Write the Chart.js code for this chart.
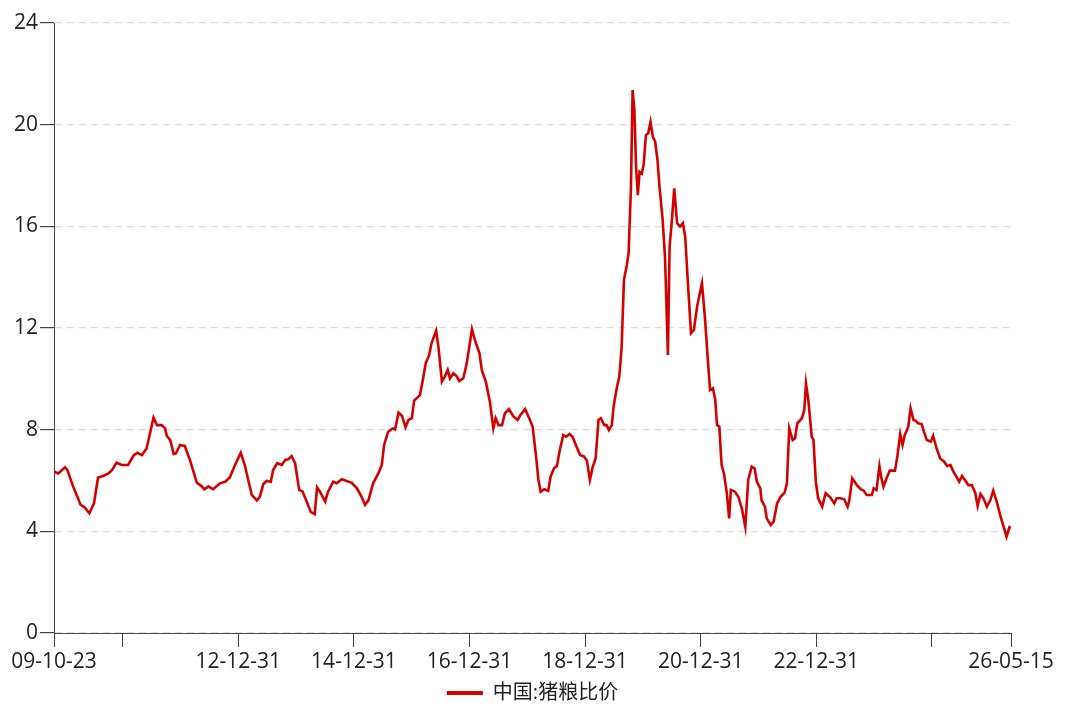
<!DOCTYPE html>
<html>
<head>
<meta charset="utf-8">
<script src="https://cdn.jsdelivr.net/npm/chart.js@4.4.1/dist/chart.umd.min.js"></script>
<style>
  html, body { margin: 0; padding: 0; background: #fff; }
</style>
</head>
<body>
<canvas id="chart" width="1071" height="710"></canvas>
<script>
// positions on the time axis, as decimal years
const years = [
  2009.81, 2009.88, 2010.00, 2010.04, 2010.14, 2010.27, 2010.34, 2010.42, 2010.50, 2010.57,
  2010.66, 2010.75, 2010.81, 2010.89, 2010.98, 2011.09, 2011.19, 2011.25, 2011.33, 2011.41,
  2011.47, 2011.53, 2011.59, 2011.67, 2011.73, 2011.76, 2011.82, 2011.88, 2011.92, 2011.99,
  2012.07, 2012.16, 2012.28, 2012.36, 2012.41, 2012.48, 2012.56, 2012.68, 2012.77, 2012.85,
  2012.94, 2013.04, 2013.11, 2013.23, 2013.32, 2013.37, 2013.43, 2013.49, 2013.56, 2013.60,
  2013.67, 2013.75, 2013.81, 2013.86, 2013.92, 2013.98, 2014.05, 2014.11, 2014.18, 2014.25,
  2014.32, 2014.36, 2014.41, 2014.50, 2014.55, 2014.64, 2014.70, 2014.79, 2014.87, 2014.96,
  2015.05, 2015.13, 2015.19, 2015.25, 2015.33, 2015.42, 2015.48, 2015.52, 2015.59, 2015.67,
  2015.71, 2015.77, 2015.83, 2015.89, 2015.94, 2016.00, 2016.04, 2016.08, 2016.14, 2016.19,
  2016.24, 2016.30, 2016.34, 2016.42, 2016.46, 2016.52, 2016.57, 2016.62, 2016.66, 2016.72,
  2016.78, 2016.82, 2016.89, 2016.95, 2017.04, 2017.09, 2017.17, 2017.21, 2017.28, 2017.35,
  2017.41, 2017.45, 2017.50, 2017.56, 2017.61, 2017.68, 2017.76, 2017.83, 2017.88, 2017.96,
  2018.02, 2018.09, 2018.15, 2018.19, 2018.23, 2018.29, 2018.36, 2018.40, 2018.46, 2018.51,
  2018.56, 2018.62, 2018.67, 2018.73, 2018.78, 2018.85, 2018.91, 2018.98, 2019.03, 2019.08,
  2019.13, 2019.18, 2019.23, 2019.27, 2019.33, 2019.37, 2019.41, 2019.46, 2019.49, 2019.55,
  2019.59, 2019.63, 2019.67, 2019.72, 2019.75, 2019.79, 2019.82, 2019.85, 2019.88, 2019.91,
  2019.94, 2019.98, 2020.01, 2020.05, 2020.09, 2020.13, 2020.17, 2020.21, 2020.25, 2020.29,
  2020.34, 2020.38, 2020.40, 2020.43, 2020.46, 2020.50, 2020.54, 2020.59, 2020.64, 2020.69,
  2020.73, 2020.77, 2020.83, 2020.88, 2020.94, 2021.02, 2021.07, 2021.13, 2021.16, 2021.21,
  2021.25, 2021.28, 2021.32, 2021.36, 2021.40, 2021.45, 2021.49, 2021.52, 2021.59, 2021.65,
  2021.71, 2021.77, 2021.82, 2021.88, 2021.93, 2021.97, 2022.03, 2022.05, 2022.11, 2022.14,
  2022.21, 2022.26, 2022.32, 2022.38, 2022.45, 2022.49, 2022.53, 2022.59, 2022.63, 2022.67,
  2022.75, 2022.79, 2022.82, 2022.86, 2022.92, 2022.95, 2022.99, 2023.03, 2023.10, 2023.16,
  2023.24, 2023.31, 2023.35, 2023.41, 2023.48, 2023.54, 2023.57, 2023.62, 2023.70, 2023.77,
  2023.82, 2023.87, 2023.96, 2023.99, 2024.04, 2024.09, 2024.12, 2024.16, 2024.22, 2024.27,
  2024.36, 2024.40, 2024.45, 2024.49, 2024.53, 2024.59, 2024.63, 2024.68, 2024.72, 2024.76,
  2024.82, 2024.86, 2024.91, 2024.98, 2025.02, 2025.08, 2025.14, 2025.21, 2025.26, 2025.32,
  2025.37, 2025.43, 2025.47, 2025.52, 2025.57, 2025.63, 2025.69, 2025.75, 2025.79, 2025.84,
  2025.89, 2025.95, 2026.01, 2026.06, 2026.12, 2026.18, 2026.24, 2026.29, 2026.34, 2026.367
];

// 中国:猪粮比价
const ratio = [
  6.35, 6.28, 6.52, 6.41, 5.76, 5.04, 4.94, 4.71, 5.10, 6.12,
  6.18, 6.28, 6.41, 6.70, 6.61, 6.61, 7.00, 7.09, 7.00, 7.26,
  7.86, 8.48, 8.18, 8.18, 8.05, 7.75, 7.59, 7.04, 7.07, 7.40,
  7.36, 6.81, 5.91, 5.78, 5.65, 5.76, 5.66, 5.89, 5.95, 6.12,
  6.61, 7.09, 6.60, 5.43, 5.21, 5.36, 5.86, 5.98, 5.95, 6.41,
  6.68, 6.61, 6.81, 6.83, 6.96, 6.68, 5.63, 5.56, 5.17, 4.77,
  4.68, 5.73, 5.56, 5.17, 5.56, 5.95, 5.89, 6.05, 5.98, 5.91,
  5.69, 5.36, 5.04, 5.23, 5.89, 6.28, 6.61, 7.40, 7.92, 8.05,
  8.01, 8.67, 8.54, 8.09, 8.38, 8.45, 9.14, 9.23, 9.36, 9.95,
  10.61, 10.94, 11.40, 11.89, 11.26, 9.89, 10.09, 10.35, 10.02, 10.22,
  10.09, 9.91, 10.02, 10.61, 11.95, 11.53, 11.00, 10.35, 9.89, 9.10,
  8.05, 8.45, 8.18, 8.18, 8.64, 8.81, 8.51, 8.38, 8.58, 8.81,
  8.51, 8.12, 6.94, 6.02, 5.56, 5.66, 5.59, 6.15, 6.48, 6.57,
  7.20, 7.79, 7.72, 7.83, 7.72, 7.33, 7.00, 6.94, 6.78, 6.02,
  6.54, 6.87, 8.38, 8.45, 8.18, 8.18, 7.99, 8.18, 8.90, 9.69,
  10.09, 11.26, 13.89, 14.48, 14.94, 17.43, 21.36, 20.57, 18.34, 17.23,
  18.15, 18.08, 18.41, 19.59, 19.66, 20.11, 19.52, 19.33, 18.61, 17.43,
  16.25, 14.80, 13.36, 10.94, 15.20, 16.25, 17.49, 16.12, 15.99, 16.12,
  15.59, 14.02, 11.79, 11.92, 12.90, 13.76, 12.45, 10.48, 9.56, 9.63,
  9.17, 8.18, 8.12, 6.61, 6.28, 5.50, 4.51, 5.63, 5.56, 5.36,
  4.90, 4.18, 6.02, 6.54, 6.48, 5.95, 5.69, 5.23, 4.97, 4.51,
  4.25, 4.38, 5.10, 5.36, 5.52, 5.89, 8.05, 7.59, 7.66, 8.25,
  8.45, 8.77, 9.82, 9.17, 7.72, 7.59, 5.95, 5.30, 4.97, 5.50,
  5.34, 5.10, 5.30, 5.30, 5.26, 4.97, 5.23, 6.09, 5.82, 5.65,
  5.60, 5.43, 5.43, 5.69, 5.63, 6.57, 6.15, 5.76, 6.12, 6.39,
  6.39, 6.94, 7.83, 7.40, 7.79, 8.12, 8.84, 8.38, 8.35, 8.25,
  8.22, 7.92, 7.59, 7.53, 7.76, 7.26, 6.87, 6.74, 6.57, 6.61,
  6.35, 6.12, 5.95, 6.18, 6.02, 5.82, 5.82, 5.50, 5.00, 5.47,
  5.30, 4.97, 5.23, 5.60, 5.17, 4.64, 4.18, 3.79, 4.16, 4.12
];

const tickDates = ['2009-10-23', '2010-12-31', '2012-12-31', '2014-12-31', '2016-12-31',
  '2018-12-31', '2020-12-31', '2022-12-31', '2024-12-31', '2026-05-15'];
const tickLabels = ['09-10-23', '', '12-12-31', '14-12-31', '16-12-31',
  '18-12-31', '20-12-31', '22-12-31', '', '26-05-15'];

const lineColor = '#d40000';
const fontFamily = "'Open Sans', 'Noto Sans CJK SC', sans-serif";

const toYear = (s) => {
  const d = Date.parse(s + 'T00:00:00Z');
  const y = Number(s.slice(0, 4));
  const a = Date.UTC(y, 0, 1);
  const b = Date.UTC(y + 1, 0, 1);
  return y + (d - a) / (b - a);
};
const tickYears = tickDates.map(toYear);

const canvas = document.getElementById('chart');
const chart = new Chart(canvas, {
  type: 'line',
  data: {
    datasets: [
      {
        label: '中国:猪粮比价',
        data: years.map((t, i) => ({ x: t, y: ratio[i] })),
        borderColor: lineColor,
        backgroundColor: lineColor,
        borderWidth: 2.6,
        pointRadius: 0,
        tension: 0,
        fill: false,
      },
    ],
  },
  options: {
    responsive: false,
    animation: false,
    devicePixelRatio: 1,
    layout: {
      padding: { left: 0, right: 60, top: 23, bottom: -3 },
    },
    plugins: {
      tooltip: { enabled: false },
      legend: {
        position: 'bottom',
        fullSize: false,
        labels: {
          boxWidth: 36,
          boxHeight: 4,
          padding: 2,
          color: '#222',
          font: { family: fontFamily, size: 20 },
          generateLabels: (c) =>
            Chart.defaults.plugins.legend.labels.generateLabels(c).map((l) => ({
              ...l,
              fillStyle: lineColor,
              lineWidth: 0,
            })),
        },
      },
    },
    scales: {
      x: {
        type: 'linear',
        min: tickYears[0],
        max: tickYears[tickYears.length - 1],
        afterBuildTicks: (scale) => {
          scale.ticks = tickYears.map((v) => ({ value: v }));
        },
        afterFit: (scale) => {
          scale.height = 48;
        },
        ticks: {
          autoSkip: false,
          maxRotation: 0,
          padding: 2,
          color: '#222',
          font: { family: fontFamily, size: 21 },
          callback: (v, i) => tickLabels[i],
        },
        grid: {
          drawOnChartArea: false,
          tickLength: 14,
          tickColor: '#444',
        },
        border: { color: '#444', width: 1 },
      },
      y: {
        min: 0,
        max: 24,
        afterFit: (scale) => {
          scale.width = 54;
        },
        ticks: {
          stepSize: 4,
          padding: 2,
          color: '#222',
          font: { family: fontFamily, size: 21 },
        },
        grid: {
          color: '#dddddd',
          lineWidth: 1.2,
          tickLength: 14,
          tickColor: '#444',
          tickBorderDash: [],
        },
        border: { color: '#444', width: 1, dash: [7, 5] },
      },
    },
  },
});
</script>
</body>
</html>
